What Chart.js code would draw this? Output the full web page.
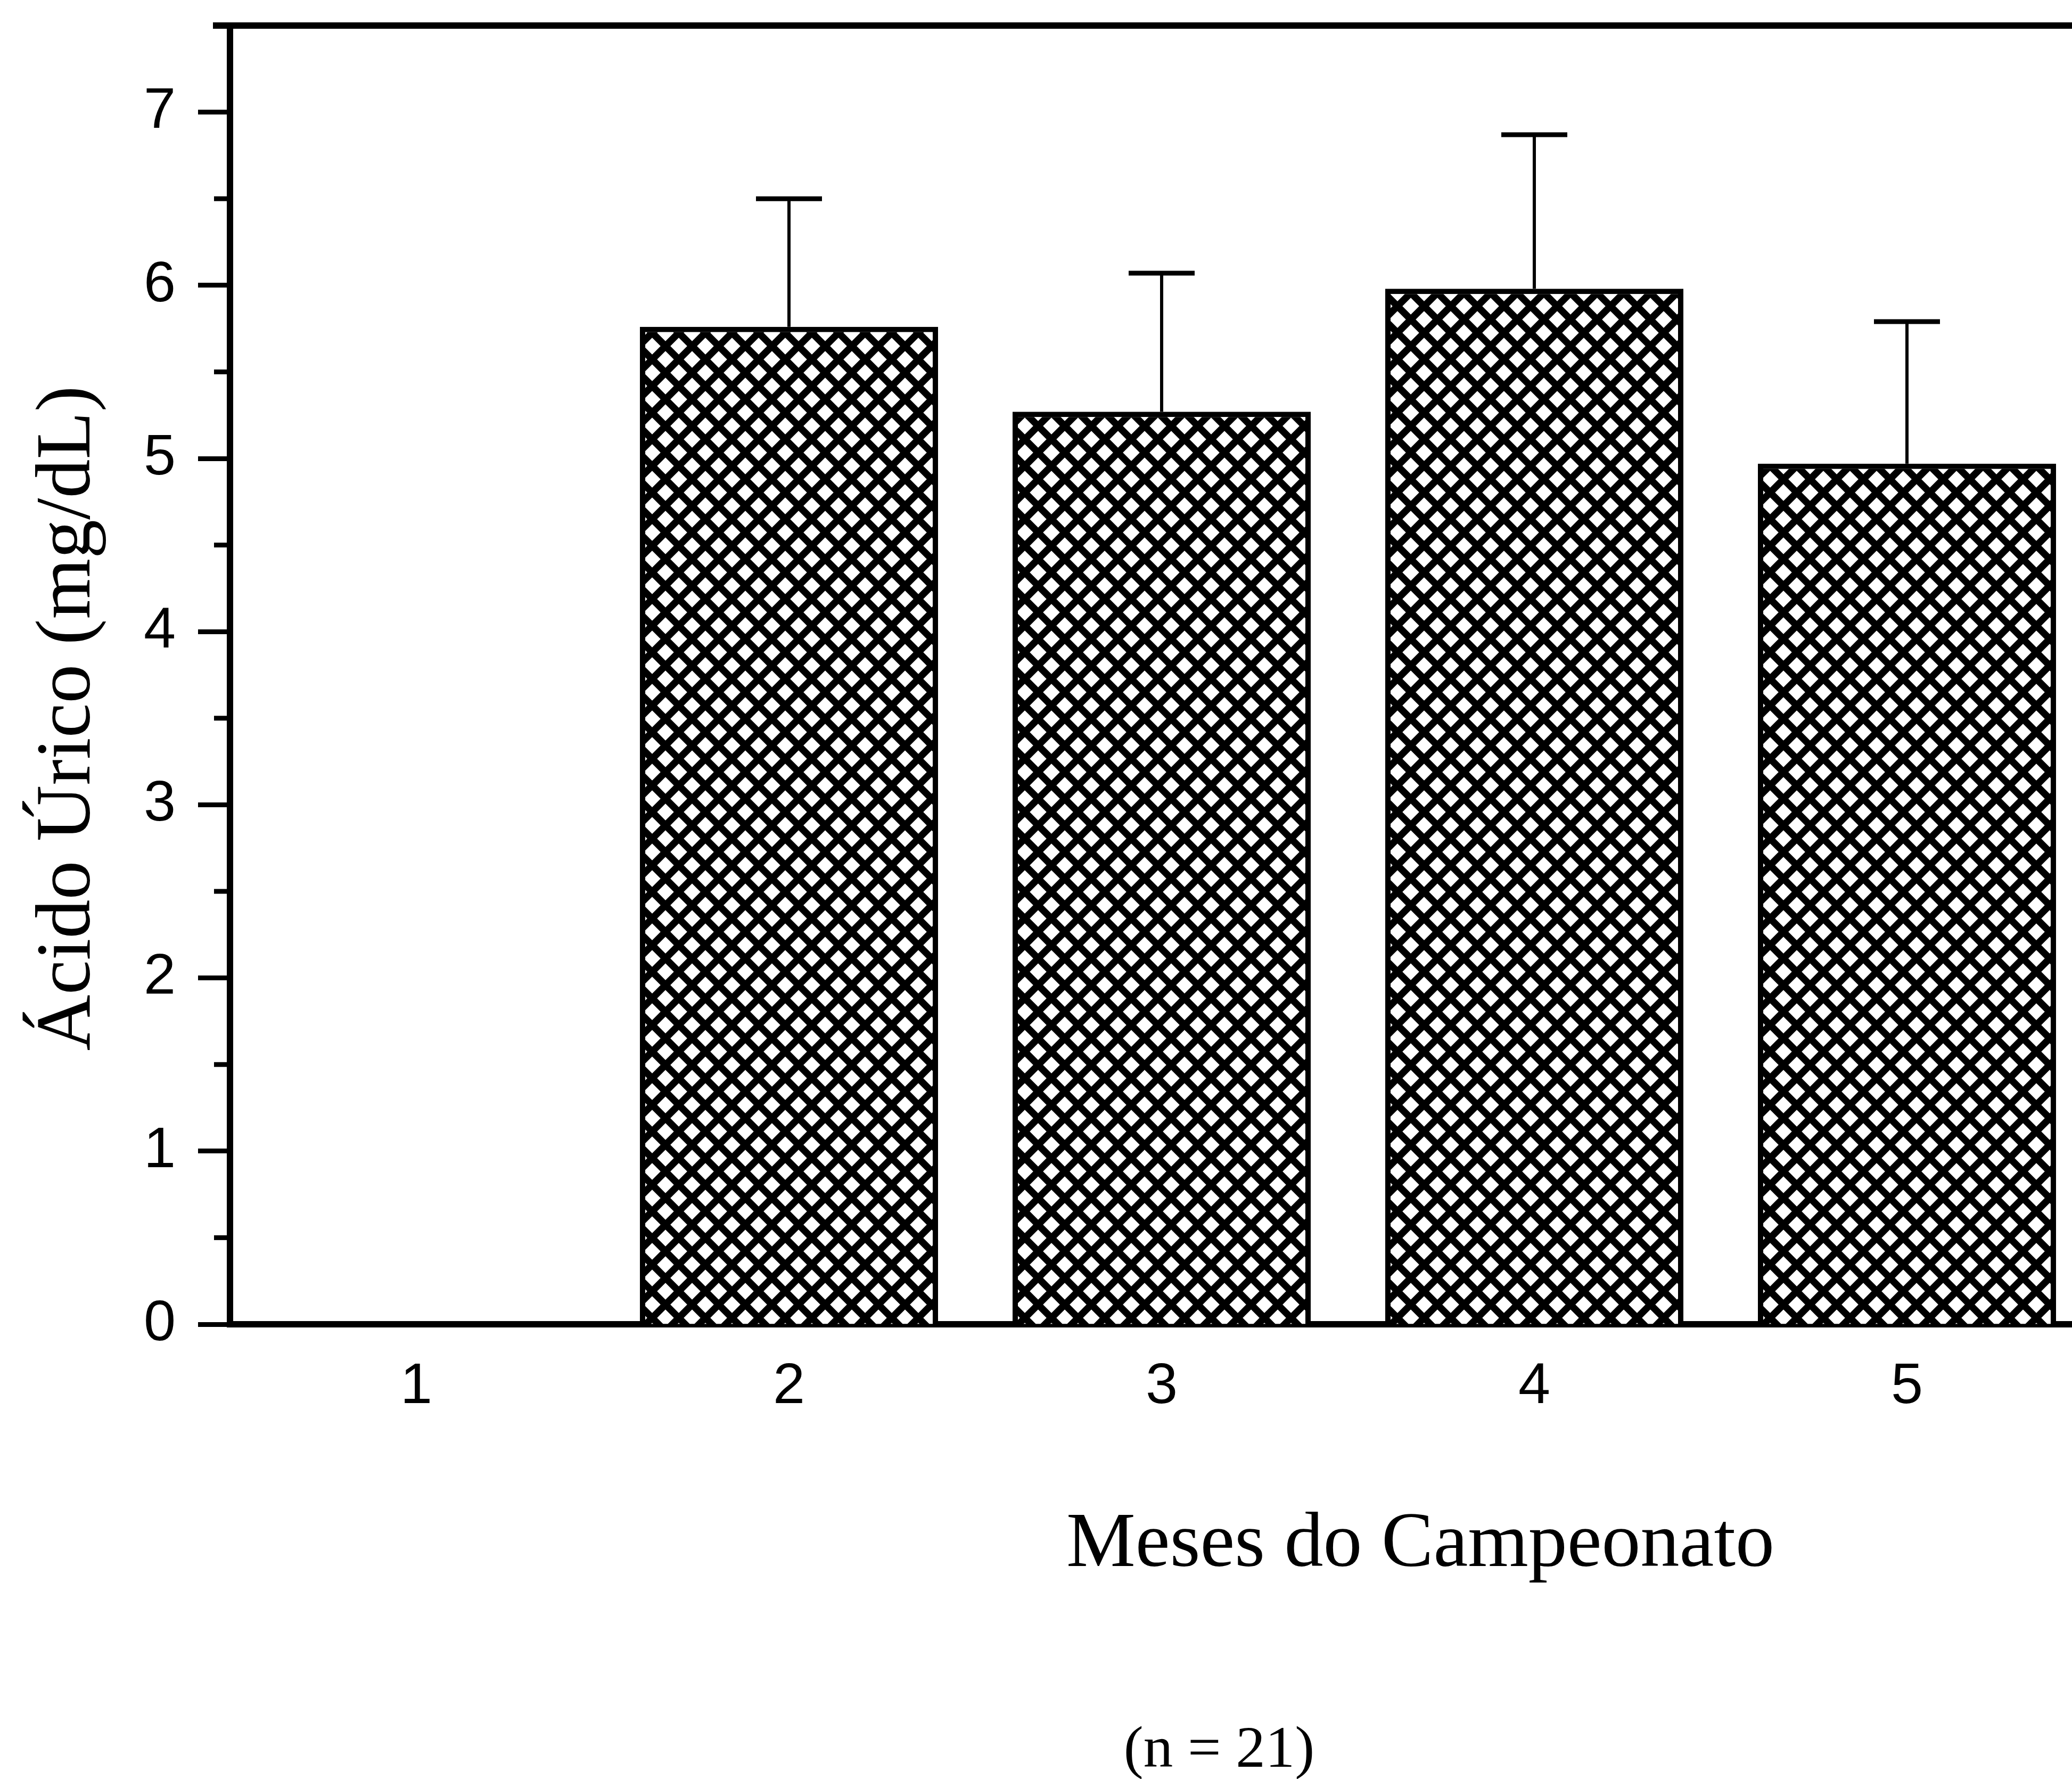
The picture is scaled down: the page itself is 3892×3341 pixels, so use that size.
<!DOCTYPE html>
<html>
<head>
<meta charset="utf-8">
<script src="https://cdn.jsdelivr.net/npm/chart.js@4.4.0/dist/chart.umd.min.js"></script>
<style>
html, body { margin: 0; padding: 0; background: #fff; overflow: hidden; }
canvas { display: block; }
</style>
</head>
<body>
<canvas id="grafico" width="3940" height="3341"></canvas>
<script>
const meses = ['1', '2', '3', '4', '5'];
const acidoUrico = [null, 5.76, 5.27, 5.98, 4.97];
const erroSuperior = [null, 6.50, 6.07, 6.87, 5.79];
const tituloX = 'Meses do Campeonato';
const tituloY = 'Ácido Úrico (mg/dL)';
const nota = '(n = 21)';

const canvas = document.getElementById('grafico');
const ctx = canvas.getContext('2d');

// hachura cruzada das barras
function criarHachura() {
    const p = 50;
    const tile = document.createElement('canvas');
    tile.width = p;
    tile.height = p;
    const g = tile.getContext('2d');
    g.fillStyle = '#fff';
    g.fillRect(0, 0, p, p);
    g.strokeStyle = '#000';
    g.lineWidth = 13;
    for (const o of [-p, 0, p]) {
        g.beginPath(); g.moveTo(o, 0); g.lineTo(o + p, p); g.stroke();
        g.beginPath(); g.moveTo(o + p, 0); g.lineTo(o, p); g.stroke();
    }
    return ctx.createPattern(tile, 'repeat');
}

const extras = {
    id: 'extras',
    afterDatasetsDraw(chart) {
        const c = chart.ctx;
        const area = chart.chartArea;
        const y = chart.scales.y;
        const meta = chart.getDatasetMeta(0);
        c.save();
        c.strokeStyle = '#000';

        // barras de erro
        meta.data.forEach((barra, i) => {
            if (acidoUrico[i] == null) return;
            const topo = y.getPixelForValue(erroSuperior[i]);
            c.lineWidth = 6;
            c.beginPath(); c.moveTo(barra.x, barra.y); c.lineTo(barra.x, topo); c.stroke();
            c.lineWidth = 9;
            c.beginPath(); c.moveTo(barra.x - 62, topo); c.lineTo(barra.x + 62, topo); c.stroke();
        });

        // linha superior da moldura
        c.lineWidth = 12;
        c.beginPath(); c.moveTo(area.left - 32, area.top); c.lineTo(chart.width, area.top); c.stroke();

        // ticks menores
        c.lineWidth = 9;
        y.ticks.forEach(t => {
            if (Number.isInteger(t.value) || t.value >= y.max) return;
            const py = y.getPixelForValue(t.value);
            c.beginPath(); c.moveTo(area.left - 30, py); c.lineTo(area.left, py); c.stroke();
        });

        // titulos
        c.fillStyle = '#000';
        c.textAlign = 'center';
        c.textBaseline = 'alphabetic';
        c.font = '146px "Liberation Serif"';
        c.fillText(tituloX, area.left + 2236, 2941);
        c.font = '111px "Liberation Serif"';
        c.fillText(nota, area.left + 1858, 3318);
        c.translate(168, 1349);
        c.rotate(-Math.PI / 2);
        c.font = '146px "Liberation Serif"';
        c.fillText(tituloY, 0, 0);
        c.restore();
    }
};

Chart.defaults.font.family = '"Liberation Sans", Arial, sans-serif';
Chart.defaults.color = '#000';

new Chart(ctx, {
    type: 'bar',
    data: {
        labels: meses,
        datasets: [{
            data: acidoUrico,
            backgroundColor: criarHachura(),
            borderColor: '#000',
            borderWidth: 10,
            barPercentage: 0.8,
            categoryPercentage: 1.0
        }]
    },
    options: {
        responsive: false,
        animation: false,
        devicePixelRatio: 1,
        layout: { padding: { top: 48, right: 8, left: 0, bottom: 0 } },
        plugins: {
            legend: { display: false },
            tooltip: { enabled: false }
        },
        scales: {
            x: {
                grid: { display: false, drawTicks: false },
                border: { display: true, color: '#000', width: 12 },
                ticks: { font: { size: 108 }, padding: 53, maxRotation: 0 },
                afterFit(s) {
                    s.height = 854;
                    s.paddingLeft = 0;
                    s.paddingRight = 0;
                }
            },
            y: {
                min: 0,
                max: 7.5,
                grid: {
                    drawOnChartArea: false,
                    drawTicks: true,
                    tickLength: 60,
                    tickWidth: 9,
                    tickColor: c => Number.isInteger(c.tick.value) && c.tick.value < 7.5 ? '#000' : 'rgba(0,0,0,0)'
                },
                border: { display: true, color: '#000', width: 12 },
                ticks: {
                    stepSize: 0.5,
                    font: { size: 108 },
                    padding: 42,
                    callback: v => Number.isInteger(v) && v < 7.5 ? String(v) : ''
                },
                afterFit(s) {
                    s.width = 432;
                    s.paddingTop = 0;
                    s.paddingBottom = 0;
                }
            }
        }
    },
    plugins: [extras]
});
</script>
</body>
</html>
